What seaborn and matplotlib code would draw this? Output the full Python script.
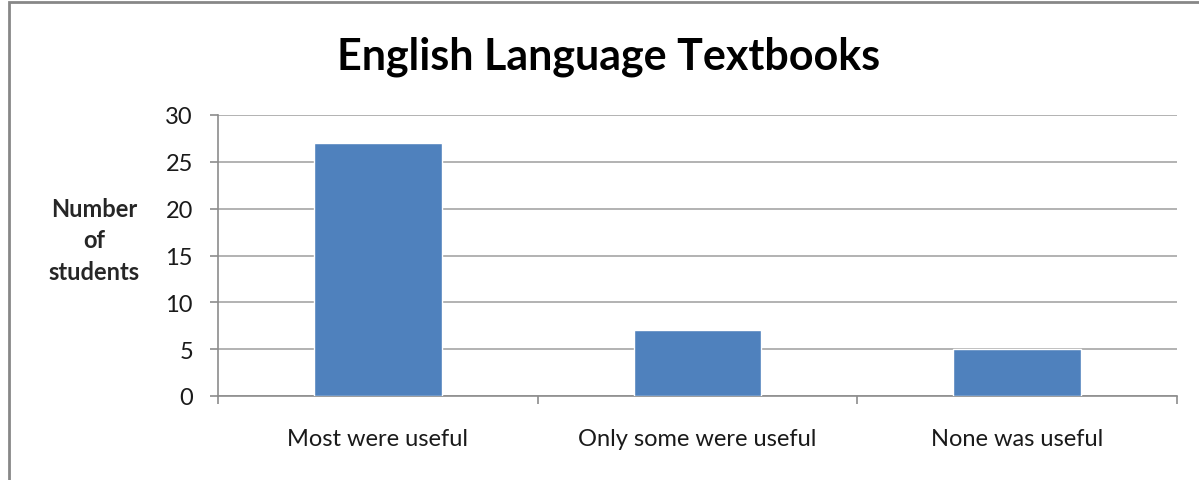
import numpy as np
import pandas as pd
import matplotlib
matplotlib.use('Agg')
import matplotlib.pyplot as plt
import seaborn as sns
from matplotlib.patches import Rectangle

sns.set_style('white')
plt.rcParams['font.family'] = ['Lato', 'DejaVu Sans']

# data
categories = ['Most were useful', 'Only some were useful', 'None was useful']
students = [27, 7, 5]
y_ticks = [0, 5, 10, 15, 20, 25, 30]

df = pd.DataFrame({'answer': categories, 'count': students})

fig = plt.figure(figsize=(11.99, 4.81), dpi=100)
ax = fig.add_axes([218 / 1199, 1 - 397 / 481, (1177 - 218) / 1199, (397 - 116) / 481])

sns.barplot(data=df, x='answer', y='count', color='#4F81BD', saturation=1,
            width=0.4, ax=ax, zorder=3)

ax.set_ylim(0, 30)
ax.set_xlim(-0.5, 2.5)
ax.set_yticks(y_ticks)
ax.yaxis.grid(True, color='#A6A6A6', linewidth=1.2, zorder=0)
ax.set_axisbelow(True)
for s in ['top', 'right']:
    ax.spines[s].set_visible(False)
for s in ['left', 'bottom']:
    ax.spines[s].set_color('#8C8C8C')
    ax.spines[s].set_linewidth(1.2)

ax.tick_params(axis='y', length=6, width=1.2, color='#8C8C8C', pad=12,
               labelsize=17, labelcolor='#1a1a1a', left=True)
ax.set_xticks(np.arange(len(categories)))
ax.set_xticklabels(categories)
ax.set_xticks([-0.5, 0.5, 1.5, 2.5], minor=True)
ax.tick_params(axis='x', which='major', length=0, pad=23, labelsize=17,
               labelcolor='#1a1a1a')
ax.tick_params(axis='x', which='minor', length=6, width=1.2, color='#8C8C8C',
               bottom=True)
ax.set_xlabel('')
ax.set_ylabel('')

fig.text(94 / 1199, 1 - 241 / 481, 'Number\nof\nstudents', ha='center', va='center',
         fontsize=17, fontweight='bold', linespacing=1.45)
fig.text(609 / 1199, 1 - 57 / 481, 'English Language Textbooks', ha='center',
         va='center', fontsize=31, fontweight='bold', color='black')

# outer chart border (cropped at right/bottom in the original)
fig.patches.append(Rectangle((9 / 1199, -0.1), 1.2, 1 - 3 / 481 + 0.1,
                             transform=fig.transFigure, fill=False,
                             edgecolor='#878787', linewidth=2))

fig.savefig('out.png', dpi=100)
